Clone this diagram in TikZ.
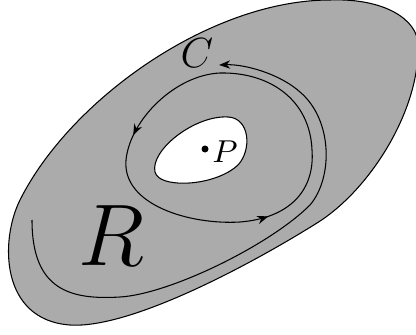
\documentclass[tikz,border=0pt]{standalone}
\usetikzlibrary{arrows.meta, decorations.markings}

\begin{document}
\begin{tikzpicture}[
  x=0.01cm, y=-0.01cm,
  region/.style={draw, line width=0.3pt, fill=black!33},
  hole/.style={draw, line width=0.3pt, fill=white},
  contour/.style={line width=0.3pt},
  tip/.style={-{Stealth[length=3.2pt, width=2.4pt]}},
  looptips/.style={postaction={decorate}, decoration={markings,
      mark=at position 0.21 with {\arrow{Stealth[length=3.2pt, width=2.4pt]}},
      mark=at position 0.585 with {\arrow{Stealth[length=3.2pt, width=2.4pt]}}}}
]
  \useasboundingbox (0,0) rectangle (416,334);

  % region R
  \draw[region] (330,0) .. controls (210,0) and (70,100) .. (20,200)
    .. controls (0,240) and (0,320) .. (70,325)
    .. controls (130,329) and (250,265) .. (317,223)
    .. controls (370,190) and (420,110) .. (418,45)
    .. controls (418,20) and (385,-2) .. (330,0) -- cycle;

  % hole round P
  \draw[hole] (155,172) .. controls (150,150) and (195,115) .. (228,117)
    .. controls (250,118) and (252,150) .. (238,165)
    .. controls (222,180) and (190,186) .. (170,182)
    .. controls (160,180) and (156,176) .. (155,172) -- cycle;

  % contour C, outer part
  \draw[contour, tip] (32,220) .. controls (32,290) and (70,300) .. (120,297)
    .. controls (170,294) and (270,245) .. (310,205)
    .. controls (333,178) and (333,120) .. (300,92)
    .. controls (280,74) and (245,64) .. (219,65);

  % contour C, inner loop
  \draw[contour, looptips] (220,73) .. controls (175,75) and (130,120) .. (126,160)
    .. controls (122,205) and (190,225) .. (240,222)
    .. controls (290,218) and (315,190) .. (312,150)
    .. controls (310,100) and (270,72) .. (220,73) -- cycle;

  % labels
  \node[circle, fill, inner sep=0pt, minimum size=0.07cm] (ptP) at (205,149) {};
  \node[font=\fontsize{9}{11}\selectfont] (labP) at (225,152) {$P$};
  \node[font=\fontsize{13}{15}\selectfont] (labC) at (197,53) {$C$};
  \node[font=\fontsize{25}{28}\selectfont] (labR) at (111,236) {$R$};
\end{tikzpicture}
\end{document}
